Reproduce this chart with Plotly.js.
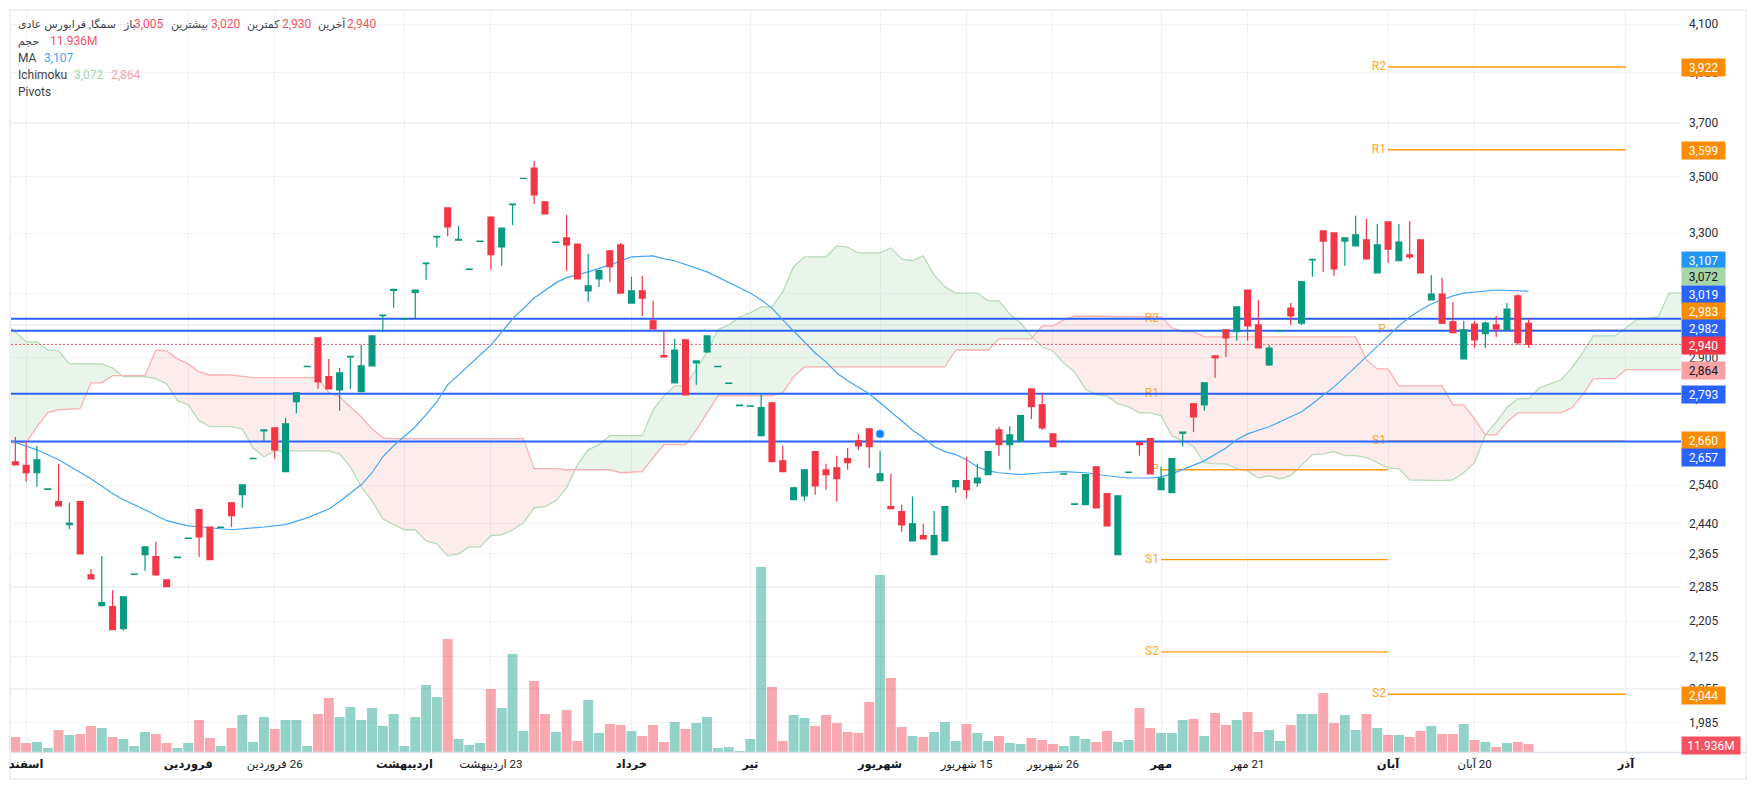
<!DOCTYPE html>
<html><head><meta charset="utf-8">
<script src="https://cdn.plot.ly/plotly-3.0.1.min.js"></script>
<style>html,body{margin:0;padding:0;background:#fff}#c{width:1757px;height:790px}</style>
</head><body><div id="c"></div>
<script>
const FONT = "Roboto, 'DejaVu Sans', sans-serif";
const GREEN='#089981', RED='#f23645', BLUE='#2962ff', ORANGE='#ff9800';

const opens=[2602,2593,2573,2529,2497,2438,2497,2314,2241,2239,
2188,2315,2363,2358,2302,2356,2403,2476,2432,2431,
2494,2515,2611,2687,2696,2576,2770,2873,2960,2843,
2804,2902,2799,2875,3029,3110,3018,3103,3197,3287,
3388,3276,3178,3272,3356,3253,3399,3493,3531,3409,
3269,3284,3263,3108,3147,3240,3260,3069,3108,3013,
2906,2825,2954,2884,2917,2873,2823,2759,2757,2674,
2767,2605,2502,2512,2630,2581,2586,2611,2660,2693,
2552,2484,2471,2397,2410,2363,2397,2536,2552,2546,
2568,2690,2649,2658,2807,2761,2679,2569,2490,2489,
2589,2518,2363,2574,2655,2666,2528,2520,2681,2764,
2761,2905,2985,2979,3111,3000,2878,2981,3053,3006,
3210,3308,3301,3273,3257,3277,3167,3339,3207,3227,
3277,3079,3098,3010,2896,3003,2973,3000,2985,3092,3005];
const highs=[2670,2658,2646,2530,2597,2494,2497,2328,2360,2277,
2262,2316,2382,2395,2302,2357,2404,2476,2432,2432,
2494,2541,2612,2690,2696,2724,2796,2874,2960,2896,
2869,2904,2938,2966,3031,3113,3019,3111,3199,3289,
3388,3325,3179,3273,3356,3318,3401,3494,3557,3412,
3270,3363,3263,3230,3174,3243,3267,3154,3157,3076,
2982,2957,2954,2890,2966,2874,2824,2760,2758,2795,
2767,2646,2536,2581,2630,2597,2619,2640,2679,2693,
2632,2570,2489,2510,2440,2473,2484,2552,2616,2597,
2630,2699,2701,2730,2807,2796,2679,2570,2491,2568,
2589,2518,2512,2575,2655,2666,2589,2611,2684,2764,
2825,2905,2985,3057,3111,3079,2938,2982,3069,3138,
3212,3308,3301,3284,3360,3350,3332,3339,3332,3342,
3277,3160,3151,3073,3013,3013,3010,3028,3069,3098,3020];
const lows=[2592,2549,2536,2529,2486,2427,2365,2304,2239,2186,
2184,2315,2324,2312,2286,2356,2403,2358,2351,2431,
2432,2481,2611,2658,2611,2576,2736,2873,2807,2807,
2744,2807,2799,2875,2977,3054,3018,3021,3144,3251,
3290,3276,3178,3272,3177,3190,3328,3493,3402,3367,
3269,3174,3147,3073,3121,3138,3101,3069,3028,2988,
2902,2825,2790,2819,2914,2873,2823,2759,2757,2674,
2603,2576,2502,2499,2515,2528,2497,2581,2635,2586,
2552,2479,2420,2397,2402,2363,2397,2520,2505,2536,
2568,2619,2581,2658,2721,2690,2644,2569,2490,2489,
2481,2435,2363,2574,2619,2570,2528,2520,2644,2684,
2744,2840,2902,2951,2951,2929,2875,2981,3000,3000,
3154,3170,3157,3190,3257,3210,3167,3200,3207,3213,
3167,3079,3003,2976,2896,2929,2929,2963,2985,2938,2930];
const closes=[2594,2573,2608,2530,2486,2442,2365,2304,2248,2186,
2262,2316,2382,2314,2286,2357,2404,2407,2351,2432,
2461,2541,2612,2690,2635,2707,2796,2874,2828,2807,
2854,2904,2875,2966,3031,3113,3019,3111,3199,3289,
3322,3279,3179,3273,3227,3318,3401,3494,3434,3367,
3270,3260,3147,3124,3174,3187,3101,3108,3085,2988,
2902,2923,2790,2890,2966,2874,2824,2760,2758,2753,
2603,2576,2533,2581,2538,2568,2557,2600,2646,2644,
2570,2479,2437,2440,2402,2410,2484,2552,2528,2559,
2630,2649,2676,2730,2756,2696,2644,2570,2491,2568,
2481,2435,2512,2575,2649,2570,2559,2611,2684,2727,
2825,2899,2960,3057,2997,2929,2929,2982,3028,3138,
3212,3273,3180,3284,3294,3213,3260,3246,3270,3220,
3167,3098,3006,2976,2985,2954,3006,2988,3050,2945,2940];
const volumes=[22.5,13.5,15,6,33,25.5,27,39,36,22.5,
19.5,9,30,27,13.5,6,13.5,48,21,9,
36,55.5,15,52.5,34.5,48,48,9,57,81,
52.5,67.5,48,66,39,57,9,52.5,100.5,82.5,
169.5,19.5,10.5,13.5,94.5,66,147,31.5,106.5,57,
30,63,16.5,78,28.5,42,40.5,31.5,24,40.5,
15,45,34.5,43.5,52.5,6,7.5,1.5,19.5,277.5,
97.5,16.5,55.5,51,39,55.5,43.5,30,28.5,75,
265.5,111,37.5,24,22.5,30,45,16.5,42,28.5,
16.5,24,13.5,12,21,18,12,9,24,19.5,
15,31.5,15,18,66,36,28.5,28.5,48,49.5,
24,58.5,40.5,48,60,30,33,16.5,40.5,57,
57,88.5,43.5,55.5,33,57,36,25.5,25.5,22.5,
31.5,39,27,27,42,18,15,7.5,13.5,15,11.936];

const maX=[-1,0,2,4,7,9,10,12,14,16,18,20,23,25,27,29,30,31,32,33,34,35,36,37,38,39,40,42,44,46,48,50,51,53,55,57,59,60,61,64,66,68,69,70,71,73,74,75,76,77,78,79,80,81,82,83,84,85,86,87,88,89,90,91,93,95,97,99,101,103,105,106,107,108,110,112,113,114,116,118,119,120,122,124,125,126,127,128,129,130,131,132,133,134,135,137,140];
const maY=[2669,2655,2635,2608,2557,2518,2502,2476,2448,2435,2430,2425,2432,2438,2455,2478,2497,2520,2541,2573,2616,2646,2671,2699,2733,2770,2819,2878,2938,3019,3085,3134,3151,3170,3193,3220,3223,3213,3207,3170,3134,3101,3079,3053,3016,2948,2914,2887,2854,2831,2813,2793,2767,2741,2718,2690,2668,2644,2630,2622,2608,2589,2578,2573,2568,2573,2576,2573,2565,2559,2559,2562,2570,2581,2605,2640,2663,2679,2699,2727,2741,2764,2813,2872,2902,2935,2963,2997,3025,3047,3066,3079,3092,3101,3105,3111,3107];

const spanAX=[-1,0,1,2,3,4,5,8,9,10,12,13,14,15,16,17,18,20,21,22,23,24,29,30,31,32,33,34,35,36,37,38,39,40,41,42,43,44,45,46,47,48,49,50,51,52,53,54,55,58,59,60,61,62,63,64,65,66,67,68,69,70,71,72,73,75,76,77,78,80,81,82,83,84,85,86,87,89,90,91,92,93,94,95,96,97,98,99,100,101,102,103,104,105,106,107,108,109,110,111,112,113,114,115,116,117,118,119,120,121,122,123,124,125,126,127,128,129,132,133,134,135,136,137,138,139,140,141,143,144,145,146,148,149,150,152,153,155];
const spanAY=[3007,2979,2948,2948,2923,2920,2881,2881,2869,2843,2843,2837,2822,2773,2761,2716,2699,2699,2693,2640,2616,2632,2632,2624,2589,2536,2499,2453,2438,2425,2425,2397,2390,2360,2365,2382,2382,2410,2412,2425,2442,2481,2484,2499,2533,2594,2635,2649,2674,2674,2747,2787,2816,2816,2866,2917,2985,3000,3025,3038,3057,3057,3105,3187,3220,3220,3257,3253,3233,3233,3250,3213,3207,3223,3160,3121,3101,3101,3076,3076,3034,3006,2966,2932,2920,2884,2857,2807,2790,2787,2764,2756,2738,2738,2730,2674,2660,2644,2600,2597,2597,2584,2578,2559,2565,2557,2565,2594,2622,2624,2630,2619,2619,2614,2600,2586,2584,2554,2552,2554,2573,2600,2676,2712,2753,2779,2779,2810,2834,2869,2914,2966,2966,2991,3016,3025,3101,3101];
const spanBX=[-1,1,2,3,4,6,7,8,9,12,13,14,15,16,17,18,20,22,28,29,30,31,32,33,34,35,47,48,50,51,55,56,58,59,60,62,63,64,65,70,71,72,73,86,87,90,91,94,95,96,97,98,106,107,108,109,110,124,125,126,127,128,132,133,134,135,136,137,138,139,143,144,145,146,148,149,155];
const spanBY=[2655,2655,2699,2738,2747,2750,2825,2825,2846,2846,2923,2920,2896,2881,2857,2848,2848,2840,2840,2796,2784,2756,2727,2693,2668,2666,2666,2584,2584,2581,2581,2573,2576,2614,2649,2649,2690,2738,2787,2787,2796,2843,2872,2872,2923,2923,2957,2957,2997,2997,3016,3028,3025,2991,2979,2979,2963,2963,2893,2866,2866,2816,2816,2761,2761,2721,2676,2676,2712,2738,2738,2753,2790,2837,2837,2864,2864];

const xTickVals=[1,16,24,36,44,57,68,80,88,96,106,114,127,135,149];
const xTickText=['<b>اسفند</b>','<b>فروردین</b>','\u200f26 فروردین','<b>اردیبهشت</b>','\u200f23 اردیبهشت','<b>خرداد</b>','<b>تیر</b>','<b>شهریور</b>','\u200f15 شهریور','\u200f26 شهریور','<b>مهر</b>','\u200f21 مهر','<b>آبان</b>','\u200f20 آبان','<b>آذر</b>'];
const yTickVals=[4100,3900,3700,3500,3300,3100,3000,2900,2780,2540,2440,2365,2285,2205,2125,2055,1985];
const yTickText=['4,100','3,900','3,700','3,500','3,300','3,100','3,000','2,900','2,780','2,540','2,440','2,365','2,285','2,205','2,125','2,055','1,985'];

const blueLevels=[3019,2982,2793,2658];
const lastPrice=2940;
const pivotMidLevels=[3019,2793,2581,2351,2136];
const pivotRightLevels=[3922,3599,2983,2659,2044];
const pivotNames=['R2','R1','P','S1','S2'];
const pivotMidRange=[106,127], pivotRightRange=[127,149];
const eventX=[80], eventY=[2679];

const plot={l:11,r:1681,t:11,b:752};
const xp=px=>(px-plot.l)/(plot.r-plot.l), yp=py=>(plot.b-py)/(plot.b-plot.t);
const idx=opens.map((_,i)=>i);
const xRange=[-0.4,154.1];
const yRange=[Math.log10(1925),Math.log10(4157)];
const traces=[];

// cloud fills: one closed area per run where the same span is on top
function lookup(xs,ys,x){
  for(let k=0;k<xs.length-1;k++) if(x>=xs[k]&&x<=xs[k+1]) return ys[k]+(ys[k+1]-ys[k])*(x-xs[k])/(xs[k+1]-xs[k]);
  return ys[ys.length-1];
}
const allX=[...new Set(spanAX.concat(spanBX))].sort((a,b)=>a-b);
let seg={x:[],a:[],b:[]}, sign=0;
function flush(){
  if(seg.x.length>1){
    traces.push({type:'scatter',mode:'none',x:seg.x.concat(seg.x.slice().reverse()),y:seg.a.concat(seg.b.slice().reverse()),
      fill:'toself',fillcolor:sign>0?'rgba(165,214,167,0.24)':'rgba(239,83,80,0.11)',hoverinfo:'skip',showlegend:false});
  }
}
allX.forEach((x,k)=>{
  const a=lookup(spanAX,spanAY,x), b=lookup(spanBX,spanBY,x), s=Math.sign(a-b);
  if(sign!==0 && s!==0 && s!==sign){
    const px=allX[k-1], pa=lookup(spanAX,spanAY,px), pb=lookup(spanBX,spanBY,px);
    const t=(pa-pb)/((pa-pb)-(a-b)), xc=px+(x-px)*t, yc=pa+(a-pa)*t;
    seg.x.push(xc);seg.a.push(yc);seg.b.push(yc);flush();
    seg={x:[xc],a:[yc],b:[yc]};
  }
  if(s!==0) sign=s;
  seg.x.push(x);seg.a.push(a);seg.b.push(b);
  if(s===0){flush();seg={x:[x],a:[a],b:[b]};}
});
flush();
traces.push({type:'scatter',mode:'lines',x:spanAX,y:spanAY,line:{color:'#b5dcb6',width:1.3},hoverinfo:'skip',showlegend:false});
traces.push({type:'scatter',mode:'lines',x:spanBX,y:spanBY,line:{color:'#fbb0b2',width:1.3},hoverinfo:'skip',showlegend:false});

// pivots
[[pivotMidRange,pivotMidLevels],[pivotRightRange,pivotRightLevels]].forEach(([r,lv])=>{
  lv.forEach(v=>{
    traces.push({type:'scatter',mode:'lines',x:r,y:[v,v],line:{color:ORANGE,width:1.4},hoverinfo:'skip',showlegend:false});
  });
  traces.push({type:'scatter',mode:'text',x:lv.map(()=>r[0]-0.2),y:lv,text:pivotNames,textposition:'middle left',
    textfont:{family:FONT,size:12,color:'#ffa726'},hoverinfo:'skip',showlegend:false});
});
// last price and horizontal levels
traces.push({type:'scatter',mode:'lines',x:[xRange[0],xRange[1]],y:[lastPrice,lastPrice],line:{color:'#f7525f',width:1,dash:'2px,2px'},hoverinfo:'skip',showlegend:false});
blueLevels.forEach(v=>traces.push({type:'scatter',mode:'lines',x:[xRange[0],xRange[1]],y:[v,v],line:{color:BLUE,width:2},hoverinfo:'skip',showlegend:false}));
// moving average
traces.push({type:'scatter',mode:'lines',x:maX,y:maY,line:{color:'#42a5f5',width:1.2},hoverinfo:'skip',showlegend:false});
// volume
traces.push({type:'bar',x:idx,y:volumes,yaxis:'y2',width:0.92,
  marker:{color:idx.map(i=>closes[i]>=opens[i]?'rgba(8,153,129,0.44)':'rgba(242,54,69,0.43)'),line:{width:0}},hoverinfo:'skip',showlegend:false});
// candles
traces.push({type:'candlestick',x:idx,open:opens,high:highs,low:lows,close:closes,yaxis:'y3',whiskerwidth:0,
  increasing:{line:{color:GREEN,width:1.2},fillcolor:GREEN},decreasing:{line:{color:RED,width:1.2},fillcolor:RED},
  hoverinfo:'skip',showlegend:false});
traces.push({type:'scatter',mode:'markers',x:eventX,y:eventY,yaxis:'y3',marker:{color:'#0a84f5',size:8,line:{color:'#5ab0ff',width:1}},hoverinfo:'skip',showlegend:false});

// text overlays
const annos=[];
const label=(px,py,text,color,size)=>annos.push({xref:'paper',yref:'paper',x:xp(px-2),y:yp(py),xanchor:'left',yanchor:'middle',text,showarrow:false,
  font:{family:FONT,size:size||12,color},align:'left'});
const INK='#3a3e49', VAL='#f7525f';
label(18,24,'سمگا, فرابورس عادی',INK,11);
label(123,24,'باز',INK,11);label(134,24,'3,005',VAL);
label(171,24,'بیشترین',INK,11);label(211,24,'3,020',VAL);
label(247,24,'کمترین',INK,11);label(282,24,'2,930',VAL);
label(318,24,'آخرین',INK,11);label(347,24,'2,940',VAL);
label(18,41,'حجم',INK,11);label(50,41,'11.936M',VAL);
label(18,58,'MA',INK);label(44,58,'3,107','#42a5f5');
label(18,75,'Ichimoku',INK);label(74,75,'3,072','#a5d6a7');label(111,75,'2,864','#faa1a4');
label(18,92,'Pivots',INK);

const badges=[['3,922',67,'#ff8c00','#fff'],['3,599',150,'#ff8c00','#fff'],['3,107',260,'#2196f3','#fff'],['3,072',277,'#a5d6a7','#131722'],
['3,019',294,BLUE,'#fff'],['2,983',311,'#ff8c00','#fff'],['2,982',328,BLUE,'#fff'],['2,940',345,RED,'#fff'],['2,864',370,'#faa1a4','#131722'],
['2,793',394,BLUE,'#fff'],['2,660',441,'#ff8c00','#fff'],['2,657',457,BLUE,'#fff'],['2,044',695,'#ff8c00','#fff']];
badges.forEach(([t,py,bg,c])=>annos.push({xref:'paper',yref:'paper',x:1,y:yp(py),xanchor:'left',yanchor:'middle',text:t,showarrow:false,
  width:43,height:17,borderpad:0,bgcolor:bg,align:'center',valign:'middle',font:{family:FONT,size:12,color:c}}));
annos.push({xref:'paper',yref:'paper',x:1,y:yp(745),xanchor:'left',yanchor:'middle',text:'11.936M',showarrow:false,width:58,height:17,borderpad:0,bgcolor:'#f7525f',align:'center',valign:'middle',font:{family:FONT,size:12,color:'#fff'}});

const FRAME='#eff0f5';
const layout={
  width:1757,height:790,paper_bgcolor:'#fff',plot_bgcolor:'#fff',showlegend:false,hovermode:false,dragmode:false,
  margin:{l:plot.l,r:1757-plot.r,t:plot.t,b:790-plot.b,pad:0},boxgap:0.46,boxgroupgap:0,barmode:'overlay',
  font:{family:FONT,size:12,color:'#131722'},
  xaxis:{type:'linear',range:xRange,rangeslider:{visible:false},tickmode:'array',tickvals:xTickVals,ticktext:xTickText,ticks:'',ticklabelstandoff:3,
    showgrid:true,gridcolor:'#f0f0f3',gridwidth:1,zeroline:false,showline:false,tickfont:{family:FONT,size:11.5,color:'#131722'},tickangle:0,automargin:false},
  yaxis:{type:'log',range:yRange,side:'right',tickmode:'array',tickvals:yTickVals,ticktext:yTickText,ticks:'',ticklabelstandoff:7,
    showgrid:true,gridcolor:'#f3f3f6',gridwidth:1.2,zeroline:false,showline:false,tickfont:{family:FONT,size:12,color:'#2a2e39'},automargin:false},
  yaxis2:{overlaying:'y',range:[0,1111.5],visible:false,fixedrange:true},
  yaxis3:{overlaying:'y',type:'log',range:yRange,visible:false,fixedrange:true},
  annotations:annos,
  shapes:[
    {type:'rect',xref:'paper',yref:'paper',x0:xp(10),x1:xp(1746),y0:yp(10),y1:yp(779),line:{color:FRAME,width:2},fillcolor:'rgba(0,0,0,0)',layer:'below'},
    {type:'line',xref:'paper',yref:'paper',x0:xp(11),x1:xp(1746),y0:yp(752.5),y1:yp(752.5),line:{color:'#e0e3eb',width:1.5},layer:'above'}
  ]
};
Plotly.newPlot('c',traces,layout,{displayModeBar:false,staticPlot:true});
</script></body></html>
